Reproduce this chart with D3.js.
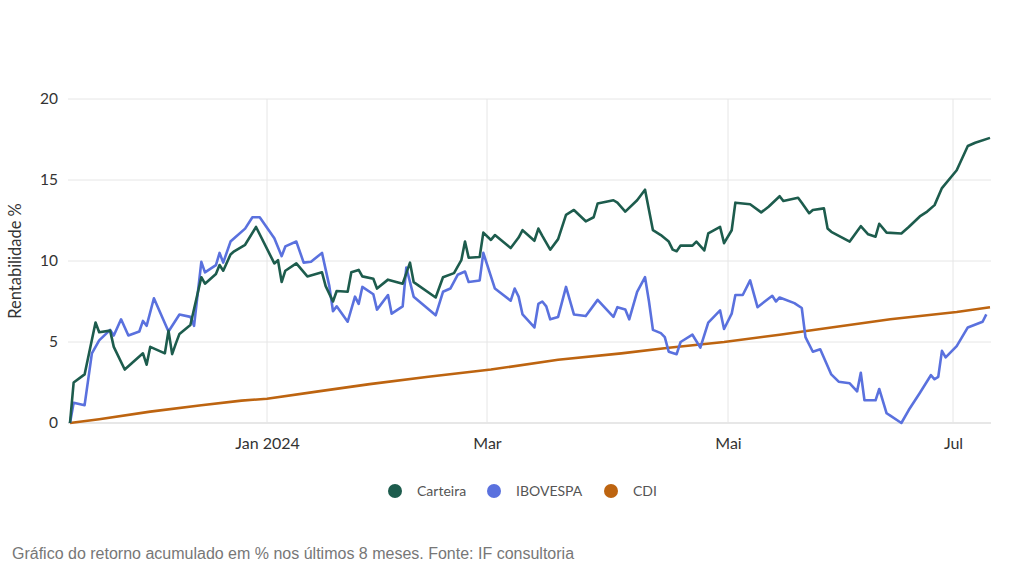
<!DOCTYPE html>
<html lang="pt">
<head>
<meta charset="UTF-8">
<script src="https://d3js.org/d3.v7.min.js"></script>
<style>
  body { margin: 0; background: #fff; }
  svg { display: block; }
  .tick text { font-family: Lato, "Open Sans", sans-serif; fill: #333; }
</style>
</head>
<body>
<svg width="1024" height="576"></svg>
<script>
// ---- data ----
var seriesNames = ["Carteira", "IBOVESPA", "CDI"];
var seriesColors = ["#1d5c4d", "#5a71de", "#bd6410"];

var carteiraDates = ["2023-11-08","2023-11-09","2023-11-12","2023-11-15","2023-11-16","2023-11-19","2023-11-20","2023-11-23","2023-11-26","2023-11-28","2023-11-29","2023-11-30","2023-12-04","2023-12-05","2023-12-06","2023-12-07","2023-12-08","2023-12-11","2023-12-14","2023-12-15","2023-12-18","2023-12-19","2023-12-20","2023-12-22","2023-12-23","2023-12-26","2023-12-29","2024-01-03","2024-01-04","2024-01-05","2024-01-06","2024-01-09","2024-01-12","2024-01-16","2024-01-17","2024-01-19","2024-01-20","2024-01-23","2024-01-24","2024-01-26","2024-01-27","2024-01-30","2024-01-31","2024-02-03","2024-02-07","2024-02-09","2024-02-10","2024-02-16","2024-02-18","2024-02-21","2024-02-23","2024-02-24","2024-02-25","2024-02-28","2024-02-29","2024-03-02","2024-03-03","2024-03-07","2024-03-09","2024-03-10","2024-03-13","2024-03-14","2024-03-15","2024-03-17","2024-03-19","2024-03-21","2024-03-23","2024-03-26","2024-03-28","2024-03-29","2024-04-02","2024-04-03","2024-04-05","2024-04-08","2024-04-10","2024-04-12","2024-04-14","2024-04-16","2024-04-17","2024-04-18","2024-04-19","2024-04-22","2024-04-23","2024-04-25","2024-04-26","2024-04-29","2024-04-30","2024-05-02","2024-05-03","2024-05-07","2024-05-10","2024-05-12","2024-05-15","2024-05-16","2024-05-20","2024-05-21","2024-05-23","2024-05-24","2024-05-27","2024-05-28","2024-05-29","2024-06-03","2024-06-06","2024-06-08","2024-06-10","2024-06-11","2024-06-13","2024-06-17","2024-06-19","2024-06-22","2024-06-24","2024-06-26","2024-06-28","2024-07-02","2024-07-05","2024-07-07","2024-07-11"];
var carteiraValues = [0,2.5,3.0,6.2,5.6,5.7,4.7,3.3,3.9,4.3,3.6,4.7,4.3,5.7,4.25,4.9,5.5,6.05,9.0,8.6,9.2,9.75,9.4,10.4,10.6,11.0,12.1,9.85,10.05,8.7,9.4,9.85,9.05,9.3,8.45,7.5,8.15,8.1,9.3,9.45,9.05,8.9,8.3,8.85,8.6,9.9,8.7,7.75,9.0,9.25,10.05,11.2,10.2,10.25,11.75,11.3,11.6,10.8,11.45,11.9,11.25,12.0,11.55,10.7,11.35,12.85,13.15,12.45,12.7,13.55,13.75,13.6,13.05,13.75,14.4,11.9,11.6,11.2,10.7,10.6,10.95,10.95,11.2,10.65,11.7,12.1,11.1,11.9,13.6,13.5,13.0,13.35,14.0,13.7,13.9,13.6,12.95,13.15,13.25,12.0,11.8,11.2,12.15,11.65,11.5,12.3,11.75,11.7,12.1,12.75,13.05,13.45,14.5,15.6,17.1,17.3,17.6];

var iboDates = ["2023-11-08","2023-11-09","2023-11-12","2023-11-14","2023-11-16","2023-11-19","2023-11-20","2023-11-22","2023-11-24","2023-11-27","2023-11-28","2023-11-29","2023-12-01","2023-12-05","2023-12-08","2023-12-11","2023-12-12","2023-12-14","2023-12-15","2023-12-18","2023-12-19","2023-12-20","2023-12-22","2023-12-23","2023-12-26","2023-12-28","2023-12-30","2024-01-03","2024-01-05","2024-01-06","2024-01-09","2024-01-11","2024-01-13","2024-01-16","2024-01-18","2024-01-19","2024-01-20","2024-01-23","2024-01-25","2024-01-26","2024-01-27","2024-01-30","2024-01-31","2024-02-03","2024-02-04","2024-02-07","2024-02-08","2024-02-10","2024-02-16","2024-02-18","2024-02-20","2024-02-22","2024-02-24","2024-02-25","2024-02-28","2024-02-29","2024-03-03","2024-03-07","2024-03-08","2024-03-09","2024-03-10","2024-03-13","2024-03-14","2024-03-15","2024-03-16","2024-03-17","2024-03-19","2024-03-21","2024-03-23","2024-03-26","2024-03-29","2024-04-02","2024-04-03","2024-04-05","2024-04-06","2024-04-08","2024-04-10","2024-04-11","2024-04-12","2024-04-14","2024-04-15","2024-04-16","2024-04-18","2024-04-19","2024-04-22","2024-04-24","2024-04-26","2024-04-29","2024-04-30","2024-05-02","2024-05-03","2024-05-05","2024-05-07","2024-05-09","2024-05-13","2024-05-14","2024-05-15","2024-05-19","2024-05-21","2024-05-22","2024-05-24","2024-05-26","2024-05-29","2024-05-31","2024-06-03","2024-06-05","2024-06-06","2024-06-07","2024-06-10","2024-06-11","2024-06-13","2024-06-14","2024-06-17","2024-06-19","2024-06-22","2024-06-25","2024-06-26","2024-06-27","2024-06-28","2024-06-29","2024-07-02","2024-07-05","2024-07-09","2024-07-10"];
var iboValues = [0,1.25,1.1,4.3,5.1,5.75,5.4,6.4,5.4,5.65,6.3,6.0,7.7,5.65,6.7,6.55,6.0,9.95,9.3,9.75,10.5,9.9,11.2,11.4,12.0,12.7,12.7,11.4,10.3,10.9,11.2,9.9,9.95,10.5,8.45,6.9,7.2,6.25,7.8,7.35,8.4,7.95,7.0,7.9,6.75,7.2,9.6,7.8,6.65,8.1,8.3,9.15,9.35,8.7,8.8,10.5,8.3,7.55,8.3,7.8,6.7,5.9,7.35,7.5,7.2,6.4,6.55,8.4,6.7,6.6,7.6,6.55,7.15,7.0,6.4,8.1,9.0,7.5,5.75,5.55,5.3,4.4,4.25,5.0,5.45,4.65,6.2,6.95,5.8,6.75,7.9,7.9,8.8,7.15,7.85,7.5,7.75,7.4,7.1,5.3,4.4,4.55,3.0,2.55,2.45,1.95,3.1,1.4,1.4,2.1,0.6,0.45,0.0,0.8,1.85,2.95,2.7,2.85,4.45,4.05,4.75,5.9,6.25,6.7];

var cdiDates = ["2023-11-08","2023-11-16","2023-11-30","2023-12-14","2023-12-25","2024-01-01","2024-01-15","2024-01-29","2024-02-14","2024-03-02","2024-03-19","2024-04-04","2024-04-16","2024-04-30","2024-05-15","2024-05-29","2024-06-14","2024-07-02","2024-07-11"];
var cdiValues = [0,0.23,0.7,1.1,1.38,1.5,1.95,2.4,2.85,3.3,3.9,4.3,4.65,5.0,5.45,5.9,6.4,6.85,7.15];

var yTicks = [0, 5, 10, 15, 20];
var xTickDates = ["2024-01-01","2024-03-01","2024-05-01","2024-07-01"];
var xTickLabels = ["Jan 2024","Mar","Mai","Jul"];

// ---- layout ----
var svg = d3.select("svg");
var parse = d3.timeParse("%Y-%m-%d");
var plotLeft = 68, plotRight = 991, plotTop = 99, plotBottom = 423;

var x = d3.scaleTime()
    .domain(["2023-11-08","2024-01-01","2024-03-01","2024-05-01","2024-07-01","2024-07-11"].map(parse))
    .range([70, 267, 487, 728, 953, 990]);
var y = d3.scaleLinear().domain([0, 20]).range([plotBottom, plotTop]);

// grid
svg.append("g").selectAll("line")
    .data(yTicks).enter().append("line")
    .attr("x1", plotLeft).attr("x2", plotRight)
    .attr("y1", function(d) { return y(d); }).attr("y2", function(d) { return y(d); })
    .attr("stroke", function(d) { return d === 0 ? "#cfcfcf" : "#e6e6e6"; })
    .attr("stroke-width", 1);

svg.append("g").selectAll("line")
    .data(xTickDates.map(parse)).enter().append("line")
    .attr("x1", function(d) { return x(d); }).attr("x2", function(d) { return x(d); })
    .attr("y1", plotTop).attr("y2", plotBottom)
    .attr("stroke", "#e6e6e6").attr("stroke-width", 1);

// axes
var yAxis = svg.append("g")
    .attr("transform", "translate(" + plotLeft + ",0)")
    .call(d3.axisLeft(y).tickValues(yTicks).tickSize(0).tickPadding(10));
yAxis.select(".domain").remove();
yAxis.selectAll("text").attr("font-size", "15.5px");

var xAxis = svg.append("g")
    .attr("transform", "translate(0," + plotBottom + ")")
    .call(d3.axisBottom(x).tickValues(xTickDates.map(parse)).tickSize(0).tickPadding(15)
        .tickFormat(function(d, i) { return xTickLabels[i]; }));
xAxis.select(".domain").remove();
xAxis.selectAll("text").attr("font-size", "16px");

svg.append("text")
    .attr("transform", "translate(21," + ((plotTop + plotBottom) / 2) + ") rotate(-90)")
    .attr("text-anchor", "middle")
    .attr("font-family", "Lato, sans-serif")
    .attr("font-size", "16.5px")
    .attr("fill", "#333")
    .text("Rentabilidade %");

// lines
function zip(dates, values) {
    return dates.map(function(d, i) { return { date: parse(d), v: values[i] }; });
}
var series = [zip(cdiDates, cdiValues), zip(iboDates, iboValues), zip(carteiraDates, carteiraValues)];
var colorsInDrawOrder = [seriesColors[2], seriesColors[1], seriesColors[0]];

var line = d3.line()
    .x(function(d) { return x(d.date); })
    .y(function(d) { return y(d.v); });

svg.append("g").selectAll("path")
    .data(series).enter().append("path")
    .attr("d", line)
    .attr("fill", "none")
    .attr("stroke", function(d, i) { return colorsInDrawOrder[i]; })
    .attr("stroke-width", 2.6)
    .attr("stroke-linejoin", "round");

// legend
var legendX = [395, 494, 611];
var legend = svg.append("g").selectAll("g")
    .data(seriesNames).enter().append("g")
    .attr("transform", function(d, i) { return "translate(" + legendX[i] + ",491)"; });
legend.append("circle").attr("r", 7).attr("fill", function(d, i) { return seriesColors[i]; });
legend.append("text")
    .attr("x", 22).attr("dy", "0.35em")
    .attr("font-family", "Lato, sans-serif")
    .attr("font-size", "14px")
    .attr("fill", "#555")
    .text(function(d) { return d; });

// caption
svg.append("text")
    .attr("x", 12).attr("y", 559)
    .attr("font-family", "'Liberation Sans', Arial, sans-serif")
    .attr("font-size", "16px")
    .attr("fill", "#777")
    .text("Gráfico do retorno acumulado em % nos últimos 8 meses. Fonte: IF consultoria");
</script>
</body>
</html>
